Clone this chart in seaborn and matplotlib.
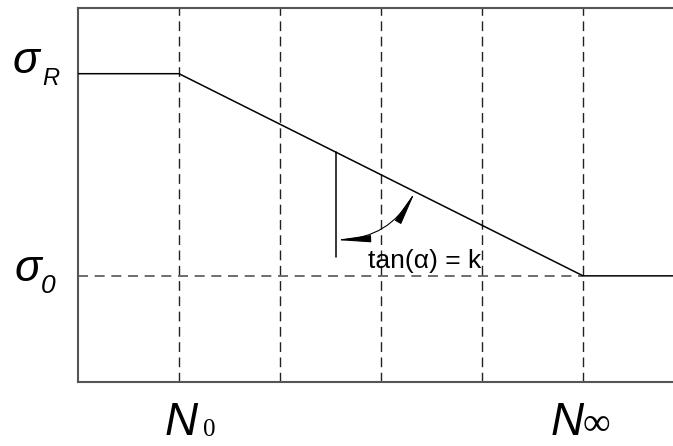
import matplotlib
matplotlib.use("Agg")
import matplotlib.pyplot as plt
import seaborn as sns
import pandas as pd
from matplotlib.patches import FancyArrowPatch

# ===== data (axis units: one grid cell = 1) =====
curve_x = [0.0, 1.0, 5.0, 5.89]
sigma_R = 3.05
sigma_0 = 1.05
curve_y = [sigma_R, sigma_R, sigma_0, sigma_0]
grid_x = [1, 2, 3, 4, 5]
N_0 = 1
N_inf = 5
angle_x = 2.555          # where the vertical reference line meets the curve
angle_bottom = 1.237
arc_start_y = 1.405
arc_end_x = 3.337
annot_text = "tan(α) = k"

df = pd.DataFrame({"x": curve_x, "y": curve_y})

sns.set_style("white")
plt.rcParams["font.family"] = ["Liberation Sans", "DejaVu Sans"]
plt.rcParams["text.color"] = "black"

fig = plt.figure(figsize=(6.73, 4.46), dpi=100)
ax = fig.add_axes([78 / 673, 64 / 446, 1 - 78 / 673, 374 / 446])

def line_y(x):
    # value of the sloping part of the curve
    return sigma_R + (sigma_0 - sigma_R) * (x - curve_x[1]) / (curve_x[2] - curve_x[1])

# grid
for gx in grid_x:
    ax.axvline(gx, color="#222222", lw=1.0, ls=(0, (7, 4)), zorder=1)
ax.plot([0, N_inf], [sigma_0, sigma_0], color="#555555", lw=1.2, ls=(0, (6, 4)), zorder=1)

# main curve
sns.lineplot(data=df, x="x", y="y", sort=False, color="black", lw=1.1, ax=ax, zorder=3)

# angle helper line + arc with arrows
top_y = line_y(angle_x)
ax.plot([angle_x, angle_x], [angle_bottom, top_y], color="black", lw=1.1, zorder=3)
arc = FancyArrowPatch((angle_x, arc_start_y), (arc_end_x, line_y(arc_end_x)),
                      connectionstyle="arc3,rad=0.28",
                      arrowstyle="<|-|>,head_length=1.05,head_width=0.11",
                      mutation_scale=20, shrinkA=0, shrinkB=0,
                      color="black", lw=0.8, zorder=4)
ax.add_patch(arc)
ax.text(2.87, 1.128, annot_text, fontsize=19, ha="left", va="baseline")

ax.set_xlim(0, 5.89)
ax.set_ylim(0, 3.7)
ax.set_xticks([])
ax.set_yticks([])
ax.set_xlabel("")
ax.set_ylabel("")
ax.grid(False)

# axis labels placed at their levels (pixel offsets)
def label(txt, xy, xycoords, off, size, style="italic", family="Liberation Sans"):
    ax.annotate(txt, xy=xy, xycoords=xycoords, xytext=off, textcoords="offset pixels",
                fontsize=size, fontstyle=style, family=family,
                ha="left", va="baseline", annotation_clip=False)

ycoords = ("axes fraction", "data")
xcoords = ("data", "axes fraction")
label("σ", (0, sigma_R), ycoords, (-65, 1), 32)
label("R", (0, sigma_R), ycoords, (-36, -11), 17)
label("σ", (0, sigma_0), ycoords, (-63, -5), 32)
label("0", (0, sigma_0), ycoords, (-37, -17), 19)
label("N", (N_0, 0), xcoords, (-14, -53), 33)
label("0", (N_0, 0), xcoords, (24, -54), 18, style="normal", family="Liberation Serif")
label("N", (N_inf, 0), xcoords, (-32, -53), 33)
label("∞", (N_inf, 0), xcoords, (-1, -53), 28, style="normal", family="Liberation Serif")

for side in ["left", "bottom", "top"]:
    ax.spines[side].set_color("#555555")
    ax.spines[side].set_linewidth(1.5)
ax.spines["right"].set_visible(False)

fig.savefig("out.png", dpi=100)
